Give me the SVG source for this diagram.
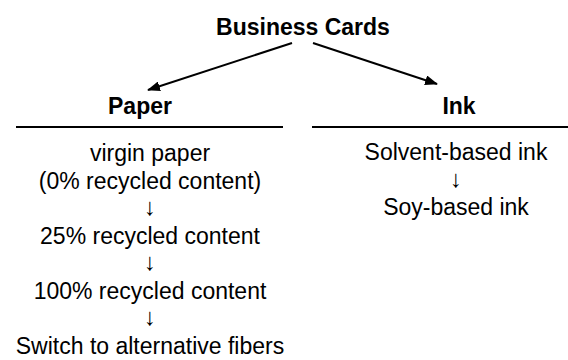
<svg xmlns="http://www.w3.org/2000/svg" width="568" height="360" viewBox="0 0 568 360">
<defs>
<marker id="ah" markerWidth="13" markerHeight="10" refX="12" refY="5" orient="auto" markerUnits="userSpaceOnUse">
<path d="M0,0 L13,5 L0,10 Z" fill="#000"/>
</marker>
<style>
.t{font-family:"Liberation Sans",Arial,sans-serif;font-size:23px;fill:#000;text-anchor:middle}
.b{font-weight:bold}
.a{font-family:"Liberation Sans",Arial,sans-serif;font-size:24px;fill:#000;text-anchor:middle}
.c{stroke:#000;stroke-width:2;fill:none}
</style>
</defs>
<rect width="568" height="360" fill="#fff"/>
<g id="root"><text class="t b" x="303" y="35">Business Cards</text></g>
<g id="paper">
<text class="t b" x="140" y="114">Paper</text>
<line class="c" x1="16" y1="127" x2="283" y2="127"/>
<text class="t" x="150" y="161">virgin paper</text>
<text class="t" x="150" y="188.5">(0% recycled content)</text>
<text class="a" x="150" y="215">↓</text>
<text class="t" x="150" y="243.5">25% recycled content</text>
<text class="a" x="150" y="270">↓</text>
<text class="t" x="150" y="298.5">100% recycled content</text>
<text class="a" x="150" y="325">↓</text>
<text class="t" x="150" y="353.5">Switch to alternative fibers</text>
</g>
<g id="ink">
<text class="t b" x="459" y="114">Ink</text>
<line class="c" x1="312" y1="127" x2="568" y2="127"/>
<text class="t" x="456" y="160">Solvent-based ink</text>
<text class="a" x="456" y="187">↓</text>
<text class="t" x="456" y="215">Soy-based ink</text>
</g>
<g id="connectors">
<line class="c" x1="292" y1="43" x2="148" y2="90" marker-end="url(#ah)"/>
<line class="c" x1="313" y1="43" x2="437" y2="84" marker-end="url(#ah)"/>
</g>
</svg>
